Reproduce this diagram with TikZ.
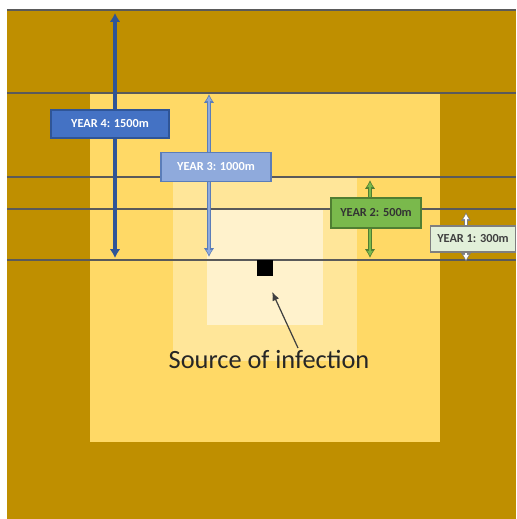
\documentclass[tikz,border=0pt]{standalone}
\usepackage{fontspec}
\setmainfont{Carlito}
\usepackage{xcolor}
\usetikzlibrary{arrows.meta,calc,positioning}
\definecolor{fieldgold}{HTML}{BF8F00}
\definecolor{zoneone}{HTML}{FFD966}
\definecolor{zonetwo}{HTML}{FFE699}
\definecolor{zonethree}{HTML}{FFF2CC}
\definecolor{ruleline}{HTML}{5A5A5A}
\definecolor{yrfourblue}{HTML}{4472C4}
\definecolor{yrfourdark}{HTML}{2F5597}
\definecolor{yrthreeblue}{HTML}{8FAADC}
\definecolor{yrthreedark}{HTML}{5B7DB8}
\definecolor{yrtwogreen}{HTML}{7AB94C}
\definecolor{yrtwodark}{HTML}{507E32}
\definecolor{yronepale}{HTML}{E2F0D9}
\definecolor{yronedark}{HTML}{7F7F7F}

\begin{document}
\begin{tikzpicture}[x=0.02cm,y=-0.02cm,
  rule/.style={draw=ruleline,line width=0.6pt},
  yearbox/.style={draw,line width=0.6pt,inner sep=0pt,text centered,
    font=\fontsize{7}{8}\selectfont\bfseries},
  spanouter/.style={line width=2.6pt,{Latex[length=5pt,width=6pt]}-{Latex[length=5pt,width=6pt]}},
  spaninner/.style={line width=1.1pt,shorten <=1pt,shorten >=1pt,
    {Latex[length=3pt,width=3.4pt]}-{Latex[length=3pt,width=3.4pt]}},
  pointer/.style={-{Latex[length=5pt,width=4pt]},draw=black!75,line width=0.7pt}
]
\useasboundingbox (0,0) rectangle (516,519);

% field and the yearly zones
\fill[fieldgold] (7,10) rectangle (516,519);
\fill[zoneone] (90,93) rectangle (440,442);
\fill[zonetwo] (173,177) rectangle (357,361);
\fill[zonethree] (207,209) rectangle (323,325);

\draw[rule] (7,10) -- (516,10);
\draw[rule] (7,93) -- (516,93);
\draw[rule] (7,177) -- (516,177);
\draw[rule] (7,209) -- (516,209);
\draw[rule] (7,260) -- (516,260);

% source
\node[fill=black,minimum size=0.32cm,inner sep=0pt] (src) at (265,268) {};
\node[font=\fontsize{15}{18}\selectfont,text=black!85] (srclbl) at (269,359) {Source of infection};
\coordinate (srctail) at (298,348);
\draw[pointer,shorten >=17*0.02cm] (srctail) -- (src.south);

% spread distances
\coordinate (y4top) at (115,13);
\coordinate (y4bot) at (115,258);
\coordinate (y3top) at (209,94);
\coordinate (y3bot) at (209,257);
\coordinate (y2top) at (370,180);
\coordinate (y2bot) at (370,258);
\coordinate (y1top) at (466,212);
\coordinate (y1bot) at (466,262);

\draw[spanouter,yrfourdark] (y4top) -- (y4bot);
\draw[spanouter,line width=2.4pt,yrthreedark] (y3top) -- (y3bot);
\draw[spaninner,yrthreeblue] (y3top) -- (y3bot);
\draw[spanouter,line width=2.4pt,yrtwodark] (y2top) -- (y2bot);
\draw[spaninner,yrtwogreen] (y2top) -- (y2bot);
\draw[spanouter,line width=2.2pt,yronedark] (y1top) -- (y1bot);
\draw[spaninner,white] (y1top) -- (y1bot);

\node[yearbox,fill=yrfourblue,draw=yrfourdark,text=white,
  minimum width=2.36cm,minimum height=0.56cm] (yr4) at (110,124) {YEAR 4: 1500m};
\node[yearbox,fill=yrthreeblue,draw=yrthreedark,text=white,
  minimum width=2.2cm,minimum height=0.58cm] (yr3) at (216,167) {YEAR 3: 1000m};
\node[yearbox,fill=yrtwogreen,draw=yrtwodark,text=black!80,
  minimum width=1.8cm,minimum height=0.6cm] (yr2) at (376,213) {YEAR 2: 500m};
\node[yearbox,fill=yronepale,draw=yronedark,text=black!75,
  minimum width=1.7cm,minimum height=0.52cm] (yr1) at (473,239) {YEAR 1: 300m};
\end{tikzpicture}
\end{document}
